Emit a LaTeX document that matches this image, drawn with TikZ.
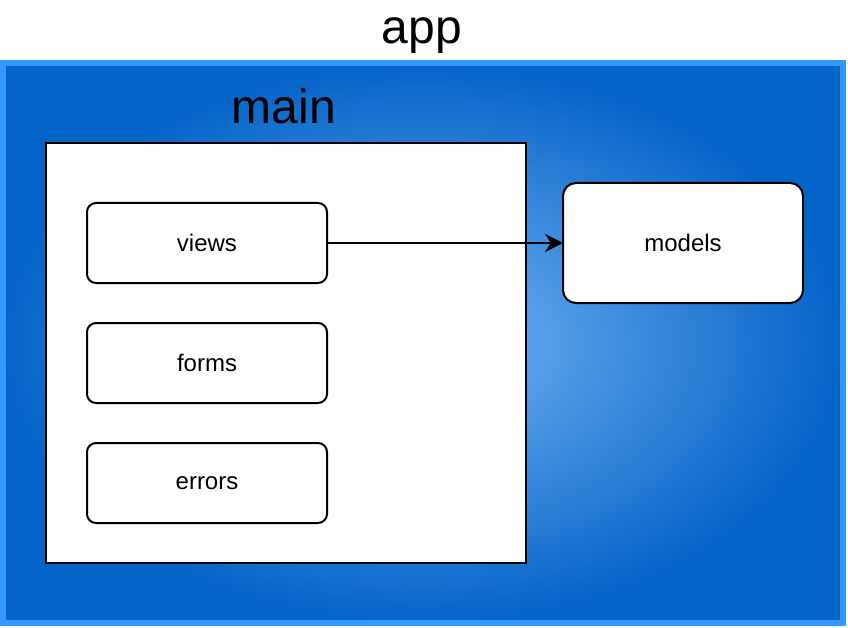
\documentclass[tikz,border=0pt]{standalone}
\usepackage{fontspec}
\setmainfont{Liberation Sans}
\usetikzlibrary{arrows.meta}
\definecolor{framec}{HTML}{3399FF}
\definecolor{darkc}{HTML}{0564C8}
\definecolor{lightc}{HTML}{74B4F4}
\tikzset{
  box/.style={draw=black, line width=2pt, fill=white, rounded corners=9pt, minimum width=240pt, minimum height=80pt, inner sep=0pt, font=\fontsize{24}{28}\selectfont},
  bigbox/.style={draw=black, line width=2pt, fill=white, rounded corners=13pt, minimum width=240pt, minimum height=120pt, inner sep=0pt, font=\fontsize{24}{28}\selectfont},
  title/.style={inner sep=0pt, anchor=base, font=\fontsize{48}{54}\selectfont},
  conn/.style={draw=black, line width=2pt, shorten >=-1pt, -{Stealth[length=18pt,width=18pt,inset=6pt]}}
}
\begin{document}
\begin{tikzpicture}[x=1pt,y=-1pt]
\useasboundingbox (0,0) rectangle (848,628);
\fill[white] (0,0) rectangle (848,628);
\shade[inner color=lightc, outer color=darkc] (3,63) rectangle (843,623);
\draw[framec, line width=6pt] (3,63) rectangle (843,623);
\node[title] (app) at (422,44) {app};
\draw[black, line width=2pt, fill=white] (46,143) rectangle (526,563);
\node[title] (main) at (284,124) {main};
\node[box] (views) at (207,243) {views};
\node[box] (forms) at (207,363) {forms};
\node[box] (errors) at (207,483) {errors};
\node[bigbox] (models) at (683,243) {models};
\draw[conn] (views.east) -- (models.west);
\end{tikzpicture}
\end{document}
